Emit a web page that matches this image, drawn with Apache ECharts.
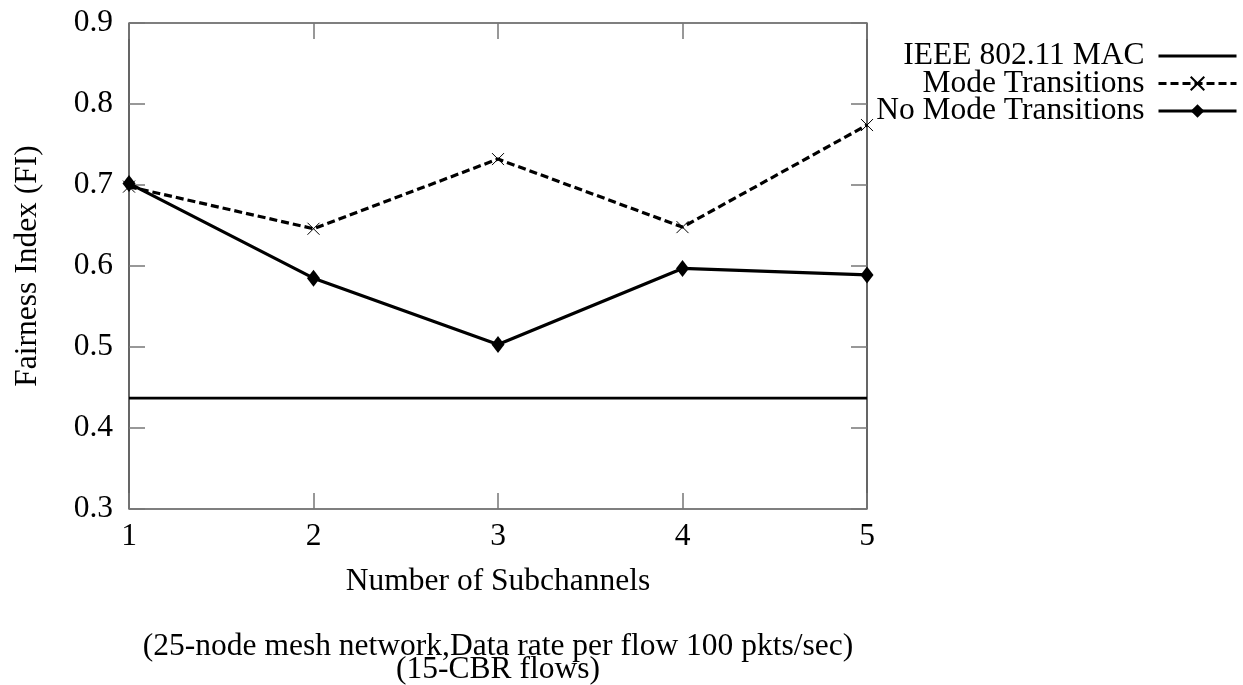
<!DOCTYPE html>
<html>
<head>
<meta charset="utf-8">
<script src="https://cdn.jsdelivr.net/npm/echarts@6/dist/echarts.min.js"></script>
<style>
html,body{margin:0;padding:0;background:#fff;}
#chart{width:1243px;height:685px;}
</style>
</head>
<body>
<div id="chart"></div>
<script>
var subchannels = [1, 2, 3, 4, 5];
var ieeeMac = [0.437, 0.437, 0.437, 0.437, 0.437];
var modeTransitions = [0.698, 0.646, 0.732, 0.648, 0.774];
var noModeTransitions = [0.702, 0.585, 0.503, 0.597, 0.589];
var seriesNames = ['IEEE 802.11 MAC', 'Mode Transitions', 'No Mode Transitions'];
var xTitle = 'Number of Subchannels';
var yTitle = 'Fairness Index (FI)';
var subtitle = '(25-node mesh network,Data rate per flow 100 pkts/sec)\n(15-CBR flows)';

function pairs(vals){ return subchannels.map(function(x,i){ return [x, vals[i]]; }); }

var FONT = 'Liberation Serif';
var FS = 31.5;
var crossPath = 'path://M0,0L10,10M10,0L0,10';

var chart = echarts.init(document.getElementById('chart'));
var tickStyle = {show:true, inside:true, length:16, lineStyle:{color:'#777', width:1.5}};
chart.setOption({
  animation:false,
  backgroundColor:'#fff',
  textStyle:{fontFamily:FONT},
  title:{
    text: subtitle,
    left: 498, top: 635, textAlign:'center', padding:0,
    textStyle:{fontFamily:FONT, fontSize:FS, fontWeight:'normal', color:'#000', lineHeight:23}
  },
  grid:{left:129, right:376, top:23, bottom:176, show:true, borderColor:'#000', borderWidth:1.2, containLabel:false},
  legend:{
    orient:'vertical', right:0, top:35, align:'right',
    itemWidth:78, itemHeight:17, itemGap:-4.5,
    lineStyle:{width:3},
    data: [
      {name: seriesNames[0], itemStyle:{opacity:0}},
      {name: seriesNames[1]},
      {name: seriesNames[2]}
    ],
    textStyle:{fontFamily:FONT, fontSize:FS, color:'#000', lineHeight:28, padding:[0,9,0,0]}
  },
  xAxis:[{
    type:'value', min:1, max:5, interval:1, position:'bottom',
    name: xTitle, nameLocation:'middle', nameGap:57,
    nameTextStyle:{fontFamily:FONT, fontSize:FS, color:'#000'},
    axisLine:{show:false}, splitLine:{show:false},
    axisTick: tickStyle,
    axisLabel:{fontFamily:FONT, fontSize:FS, color:'#000', margin:12}
  },{
    type:'value', min:1, max:5, interval:1, position:'top',
    axisLine:{show:false}, splitLine:{show:false},
    axisTick: tickStyle, axisLabel:{show:false}
  }],
  yAxis:[{
    type:'value', min:0.3, max:0.9, interval:0.1, position:'left',
    name: yTitle, nameLocation:'middle', nameGap:85,
    nameTextStyle:{fontFamily:FONT, fontSize:FS, color:'#000'},
    axisLine:{show:false}, splitLine:{show:false},
    axisTick: tickStyle,
    axisLabel:{fontFamily:FONT, fontSize:FS, color:'#000', margin:16, formatter:function(v){return v.toFixed(1);}}
  },{
    type:'value', min:0.3, max:0.9, interval:0.1, position:'right',
    axisLine:{show:false}, splitLine:{show:false},
    axisTick: tickStyle, axisLabel:{show:false}
  }],
  series:[{
    name: seriesNames[0], type:'line', data: pairs(ieeeMac),
    symbol:'none', lineStyle:{color:'#000', width:2.8}, itemStyle:{color:'#000'}
  },{
    name: seriesNames[1], type:'line', data: pairs(modeTransitions),
    symbol: crossPath, symbolSize:12,
    lineStyle:{color:'#000', width:3.2, type:[8,4]},
    itemStyle:{color:'rgba(0,0,0,0)', borderColor:'#000', borderWidth:1}
  },{
    name: seriesNames[2], type:'line', data: pairs(noModeTransitions),
    symbol:'diamond', symbolSize:[13,17],
    lineStyle:{color:'#000', width:3.2}, itemStyle:{color:'#000'}
  }]
});
</script>
</body>
</html>
